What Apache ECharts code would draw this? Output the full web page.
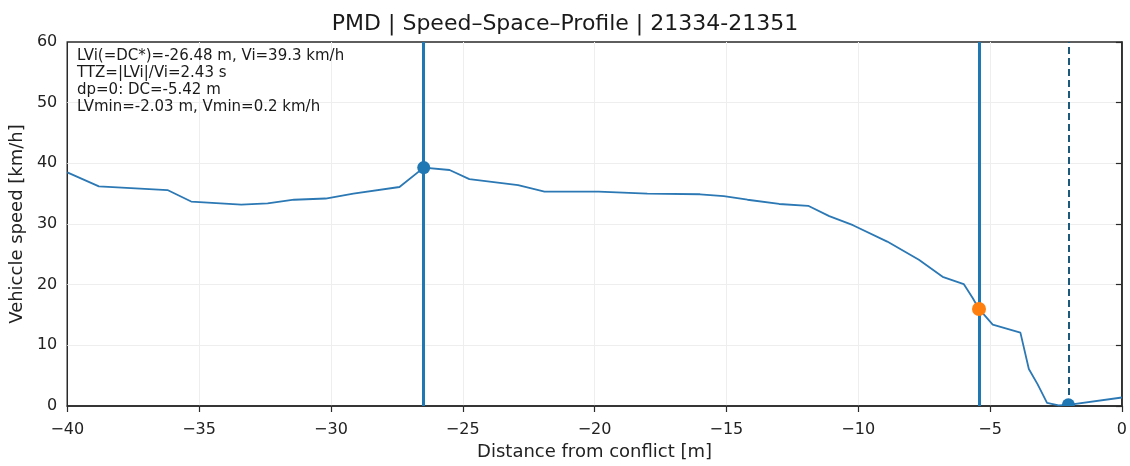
<!DOCTYPE html>
<html>
<head>
<meta charset="utf-8">
<script src="https://cdn.jsdelivr.net/npm/echarts@6/dist/echarts.min.js"></script>
<style>
  html, body { margin: 0; padding: 0; background: #fff; }
  #chart { width: 1130px; height: 466px; }
</style>
</head>
<body>
<div id="chart"></div>
<script>
// distance from conflict [m] and vehicle speed [km/h]
const distance = [-40, -38.8, -36.2, -35.3, -33.4, -32.4, -31.4, -30.2, -29.15, -27.4, -26.48, -25.5,
  -24.75, -22.9, -21.9, -19.85, -18, -16, -15.1, -14.2, -13, -11.9, -11.1, -10.2, -8.9,
  -7.7, -6.8, -6.0, -5.66, -5.42, -4.9, -3.85, -3.53, -3.2, -2.84, -2.4, -2.03, 0]
const speed = [38.5, 36.2, 35.6, 33.7, 33.2, 33.4, 34.0, 34.2, 35.0, 36.1, 39.3, 38.9,
  37.4, 36.4, 35.35, 35.35, 35.0, 34.9, 34.6, 34.0, 33.3, 33.0, 31.3, 29.8, 27.1,
  24.1, 21.3, 20.1, 17.8, 16.0, 13.4, 12.1, 6.1, 3.6, 0.5, 0.1, 0.2, 1.4]

const xTicks = { min: -40, max: 0, interval: 5 }
const yTicks = { min: 0, max: 60, interval: 10 }

const pointVi = [-26.48, 39.3]
const pointDC = [-5.42, 16.0]
const pointMin = [-2.03, 0.2]

const infoLines = [
  'LVi(=DC*)=-26.48 m, Vi=39.3 km/h',
  'TTZ=|LVi|/Vi=2.43 s',
  'dp=0: DC=-5.42 m',
  'LVmin=-2.03 m, Vmin=0.2 km/h'
]

const font = 'DejaVu Sans'
const minus = v => String(v).replace('-', '\u2212')

const chart = echarts.init(document.getElementById('chart'))
chart.setOption({
  animation: false,
  textStyle: { fontFamily: font },
  title: {
    text: 'PMD | Speed\u2013Space\u2013Profile | 21334-21351',
    left: 'center',
    top: 8,
    textStyle: { fontFamily: font, fontSize: 22, fontWeight: 'normal', color: '#1a1a1a' }
  },
  grid: {
    left: 65,
    right: 3,
    top: 42,
    bottom: 57,
    show: true,
    borderColor: '#2a2a2a',
    borderWidth: 1.5
  },
  xAxis: {
    type: 'value',
    min: xTicks.min,
    max: xTicks.max,
    interval: xTicks.interval,
    name: 'Distance from conflict [m]',
    nameLocation: 'middle',
    nameGap: 37,
    nameTextStyle: { fontFamily: font, fontSize: 18, color: '#222' },
    axisLine: { show: true, onZero: false, lineStyle: { color: '#2a2a2a', width: 1.5 } },
    axisTick: { show: true, length: 6, lineStyle: { color: '#2a2a2a', width: 1.2 } },
    axisLabel: { fontFamily: font, fontSize: 16, color: '#222', margin: 16, formatter: minus },
    splitLine: { show: true, showMinLine: false, showMaxLine: false, lineStyle: { color: '#eeeeee', width: 1 } }
  },
  yAxis: {
    type: 'value',
    min: yTicks.min,
    max: yTicks.max,
    interval: yTicks.interval,
    name: 'Vehiccle speed [km/h]',
    nameLocation: 'middle',
    nameGap: 38,
    nameTextStyle: { fontFamily: font, fontSize: 18, color: '#222' },
    axisLine: { show: true, lineStyle: { color: '#2a2a2a', width: 1.5 } },
    axisTick: { show: true, length: 6, lineStyle: { color: '#2a2a2a', width: 1.2 } },
    axisLabel: { fontFamily: font, fontSize: 16, color: '#222', margin: 10 },
    splitLine: { show: true, showMinLine: false, showMaxLine: false, lineStyle: { color: '#eeeeee', width: 1 } }
  },
  graphic: [{
    type: 'text',
    left: 77,
    top: 48,
    z: 10,
    style: {
      text: infoLines.join('\n'),
      font: '15px "DejaVu Sans"',
      lineHeight: 17,
      fill: '#1a1a1a'
    }
  }],
  series: [
    {
      type: 'line',
      data: distance.map((d, i) => [d, speed[i]]),
      showSymbol: false,
      lineStyle: { color: '#2b78b4', width: 1.8 },
      z: 3,
      markLine: {
        silent: true,
        symbol: 'none',
        label: { show: false },
        data: [
          { xAxis: pointVi[0], lineStyle: { color: '#1f77b4', width: 3, type: 'solid' } },
          { xAxis: pointDC[0], lineStyle: { color: '#1f77b4', width: 3, type: 'solid' } },
          { xAxis: pointMin[0], lineStyle: { color: '#1b5a7c', width: 2, type: [7, 4] } }
        ]
      }
    },
    {
      type: 'scatter',
      data: [pointVi],
      symbolSize: 13,
      itemStyle: { color: '#1f77b4', opacity: 1 },
      z: 5
    },
    {
      // min-speed marker, clipped by the plot area like the original
      type: 'custom',
      clip: true,
      data: [pointMin],
      z: 5,
      renderItem: (params, api) => {
        const p = api.coord([api.value(0), api.value(1)])
        return {
          type: 'circle',
          shape: { cx: p[0], cy: p[1], r: 6.5 },
          style: { fill: '#1f77b4' }
        }
      }
    },
    {
      type: 'scatter',
      data: [pointDC],
      symbolSize: 14,
      itemStyle: { color: '#ff7f0e', opacity: 1 },
      z: 5
    }
  ]
})
</script>
</body>
</html>
